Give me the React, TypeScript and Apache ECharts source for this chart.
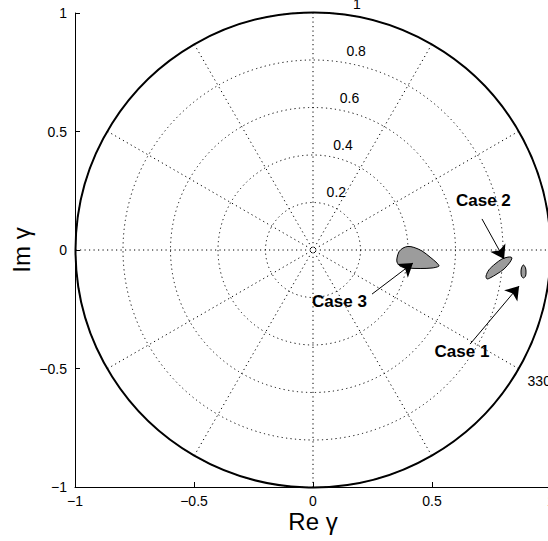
import React, { useEffect, useRef } from "react";
import * as echarts from "echarts";

// Axis ticks (cartesian frame)
const axisMin = -1;
const axisMax = 1;
const axisStep = 0.5;

// Polar grid
const radialRings = [0.2, 0.4, 0.6, 0.8, 1];
const ringLabelAngle = 82;
const spokeStep = 30;
const angleLabels = [{ text: "330", angle: 330, r: 1.1 }];

// Region outlines (Re, Im)
const case3Outline = [
  [0.353, -0.034], [0.361, -0.008], [0.378, 0.008], [0.399, 0.015], [0.424, 0.011],
  [0.458, -0.004], [0.492, -0.03], [0.521, -0.055], [0.529, -0.068], [0.5, -0.076],
  [0.45, -0.078], [0.399, -0.076], [0.366, -0.068], [0.353, -0.051],
];
const case2Outline = [
  [0.836, -0.034], [0.828, -0.051], [0.803, -0.08], [0.773, -0.101], [0.744, -0.118],
  [0.731, -0.122], [0.727, -0.11], [0.739, -0.084], [0.765, -0.059], [0.794, -0.038],
  [0.819, -0.03], [0.832, -0.03],
];
const case1Outline = [
  [0.884, -0.063], [0.893, -0.076], [0.895, -0.093], [0.893, -0.11],
  [0.884, -0.118], [0.876, -0.11], [0.874, -0.093], [0.876, -0.076],
];

// Annotations
const caseNames = ["Case 1", "Case 2", "Case 3"];
const caseLabelPos = [[0.626, -0.43], [0.716, 0.207], [0.111, -0.219]];
const arrowFrom = [[0.66, -0.397], [0.71, 0.131], [0.248, -0.186]];
const arrowTo = [[0.866, -0.152], [0.803, -0.038], [0.42, -0.055]];

const FONT = "'Liberation Sans', Arial, Helvetica, sans-serif";
const fmt = (v: number) => (v < 0 ? "\u2212" + String(Math.abs(v)) : String(v));

function shapeSeries(points: number[][], smooth: number) {
  return {
    type: "custom",
    coordinateSystem: "cartesian2d",
    xAxisIndex: 0,
    yAxisIndex: 0,
    clip: false,
    data: [points[0]],
    z: 5,
    renderItem: (_p: any, api: any) => ({
      type: "polygon",
      shape: { points: points.map((pt) => api.coord(pt)), smooth },
      style: { fill: "#9c9c9c", stroke: "#000", lineWidth: 1 },
    }),
  };
}

function textScatter(coord: string, data: any[], label: any, z = 7) {
  return {
    type: "scatter",
    coordinateSystem: coord,
    clip: false,
    symbolSize: 0,
    silent: true,
    z,
    itemStyle: { opacity: 1, color: "#000" },
    emphasis: { disabled: true },
    data,
    label: {
      show: true,
      formatter: "{b}",
      fontFamily: FONT,
      color: "#000",
      opacity: 1,
      textBorderWidth: 0,
      ...label,
    },
  };
}

export default function App() {
  const ref = useRef<HTMLDivElement>(null);
  useEffect(() => {
    if (!ref.current) return;
    const chart = echarts.init(ref.current, undefined, { renderer: "svg" });
    const dotted = { color: "#000", width: 1, type: [1.2, 3.3] as any };
    const valueAxis = (name: string, gap: number, margin: number) => ({
      type: "value",
      min: axisMin,
      max: axisMax,
      interval: axisStep,
      name,
      nameLocation: "middle",
      nameGap: gap,
      nameMoveOverlap: false,
      nameTextStyle: { fontFamily: FONT, fontSize: 24, lineHeight: 24, color: "#000" },
      axisLine: { show: true, onZero: false, lineStyle: { color: "#000", width: 1 } },
      axisTick: { show: true, inside: true, length: 5, lineStyle: { color: "#000" } },
      axisLabel: {
        formatter: fmt,
        fontFamily: FONT,
        fontSize: 14,
        lineHeight: 14,
        color: "#000",
        margin,
      },
      splitLine: { show: false },
    });
    chart.setOption({
      animation: false,
      backgroundColor: "#fff",
      grid: { left: 75, top: 13, width: 476, height: 474, outerBoundsMode: "none" },
      xAxis: valueAxis("Re \u03b3", 22, 7),
      yAxis: valueAxis("Im \u03b3", 42, 8),
      polar: { center: [313, 250], radius: 237.5 },
      angleAxis: {
        type: "value",
        min: 0,
        max: 360,
        interval: spokeStep,
        startAngle: 0,
        clockwise: false,
        axisLine: { show: true, lineStyle: { color: "#000", width: 2 } },
        axisTick: { show: false },
        axisLabel: { show: false },
        splitLine: { show: true, lineStyle: dotted },
      },
      radiusAxis: {
        type: "value",
        min: 0,
        max: 1,
        interval: 0.2,
        axisLine: { show: false },
        axisTick: { show: false },
        axisLabel: { show: false },
        splitLine: { show: true, lineStyle: dotted },
      },
      series: [
        textScatter(
          "polar",
          radialRings.map((r) => ({ name: String(r), value: [r, ringLabelAngle] })),
          { position: [7, -18], fontSize: 14 }
        ),
        textScatter(
          "polar",
          angleLabels.map((a) => ({ name: a.text, value: [a.r, a.angle] })),
          { position: "inside", fontSize: 14 }
        ),
        shapeSeries(case3Outline, 0.3),
        shapeSeries(case2Outline, 0.3),
        shapeSeries(case1Outline, 0.3),
        {
          type: "lines",
          coordinateSystem: "cartesian2d",
          z: 6,
          symbol: ["none", "arrow"],
          symbolSize: [0, 13],
          lineStyle: { color: "#000", width: 1, opacity: 1, curveness: 0 },
          data: arrowFrom.map((f, i) => ({ coords: [f, arrowTo[i]] })),
        },
        textScatter(
          "cartesian2d",
          caseNames.map((n, i) => ({ name: n, value: caseLabelPos[i] })),
          { position: "inside", fontSize: 17, fontWeight: "bold" }
        ),
      ],
    });
    return () => chart.dispose();
  }, []);
  return (
    <div
      style={{
        position: "absolute",
        left: 0,
        top: 0,
        width: 548,
        height: 541,
        overflow: "hidden",
        background: "#fff",
      }}
    >
      <div ref={ref} style={{ width: 560, height: 541 }} />
    </div>
  );
}
